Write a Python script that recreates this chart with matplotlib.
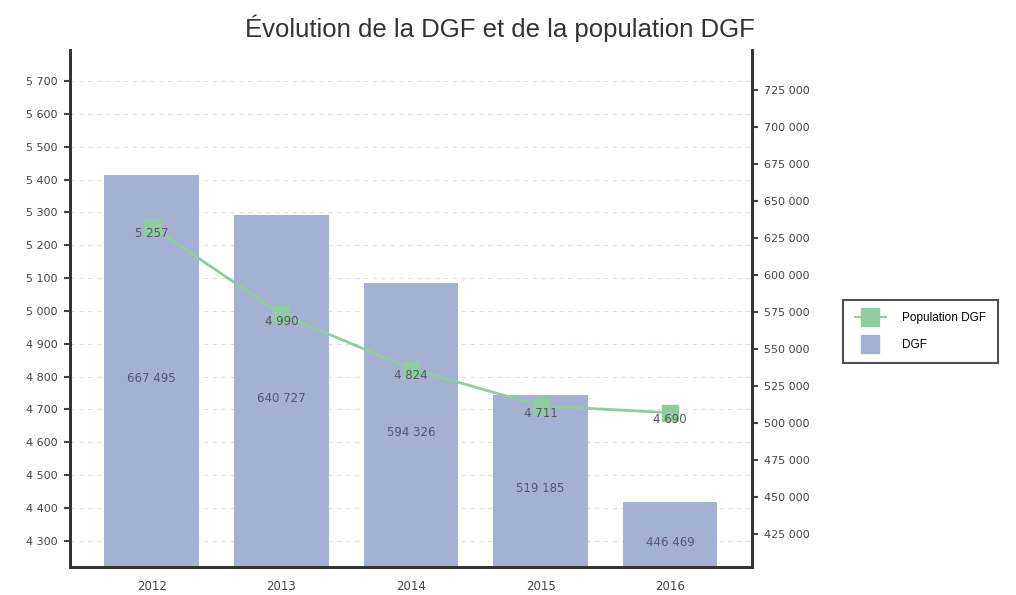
import matplotlib.pyplot as plt
import matplotlib.ticker as mticker
from matplotlib.lines import Line2D

plt.rcParams['font.family'] = ['Liberation Sans', 'DejaVu Sans']

years = ['2012', '2013', '2014', '2015', '2016']
dgf = [667495, 640727, 594326, 519185, 446469]
population = [5257, 4990, 4824, 4711, 4690]

BAR_COLOR = '#a4b1d3'
LINE_COLOR = '#8fcc9f'
SMALL_FONT = 'DejaVu Sans'


def fmt_space(v, pos=None):
    return f'{int(round(v)):,}'.replace(',', ' ')


fig = plt.figure(figsize=(10.16, 5.95), dpi=100)
ax = fig.add_axes([0.069, 0.047, 0.671, 0.869])
ax2 = ax.twinx()

x = list(range(len(years)))

# bars on the right axis
ax2.bar(x, dgf, width=0.73, color=BAR_COLOR, zorder=2)
ax2.set_ylim(402700, 752000)
ax2.set_yticks(list(range(425000, 750000, 25000)))
ax2.yaxis.set_major_formatter(mticker.FuncFormatter(fmt_space))
for xi, v in zip(x, dgf):
    ax2.text(xi, (402700 + v) / 2 - 5000, fmt_space(v), ha='center', va='center',
             fontsize=8.5, family=SMALL_FONT, color='#55557a', zorder=4)

# line on the left axis (drawn above bars)
ax.set_zorder(ax2.get_zorder() + 1)
ax.patch.set_visible(False)
ax.plot(x, population, color=LINE_COLOR, lw=2, marker='s', markersize=11,
        markerfacecolor=LINE_COLOR, markeredgecolor=LINE_COLOR)
for xi, v in zip(x, population):
    ax.text(xi, v - 22, fmt_space(v), ha='center', va='center', fontsize=8.5,
            family=SMALL_FONT, color='#555566', zorder=5)
ax.set_ylim(4220, 5795)
ax.set_yticks(list(range(4300, 5800, 100)))
ax.yaxis.set_major_formatter(mticker.FuncFormatter(fmt_space))
ax.set_xlim(-0.63, 4.63)
ax.set_xticks(x)
ax.set_xticklabels(years)

# dashed grid lines behind bars
for t in range(4300, 5800, 100):
    ax2.axhline((t - 4220) / (5795 - 4220) * (752000 - 402700) + 402700,
                color='#e0e0e0', lw=0.8, ls=(0, (4, 4)), zorder=1)

for a in (ax, ax2):
    a.spines['top'].set_visible(False)
    for s in ('left', 'right', 'bottom'):
        a.spines[s].set_linewidth(2)
        a.spines[s].set_color('#333333')
    a.tick_params(labelsize=8, colors='#444444', length=4, width=1.5, pad=5)
    for lbl in a.get_xticklabels() + a.get_yticklabels():
        lbl.set_family(SMALL_FONT)
ax.tick_params(axis='x', length=0, pad=9, labelsize=8.5)

handles = [
    Line2D([], [], color=LINE_COLOR, lw=1.5, marker='s', markersize=13,
           markerfacecolor=LINE_COLOR, markeredgecolor=LINE_COLOR),
    Line2D([], [], color='none', marker='s', markersize=13,
           markerfacecolor=BAR_COLOR, markeredgecolor=BAR_COLOR),
]
leg = fig.legend(handles, ['Population DGF', 'DGF'], loc='upper left',
                 bbox_to_anchor=(0.83, 0.496), fontsize=8.5, frameon=True,
                 fancybox=False, edgecolor='#222222', handlelength=2.6,
                 borderpad=1.0, labelspacing=1.3, handletextpad=1.4,
                 borderaxespad=0)
leg.get_frame().set_linewidth(1.5)

fig.suptitle('Évolution de la DGF et de la population DGF', x=0.492, y=0.975,
             fontsize=18.5, color='#333333')

fig.savefig('out.png', dpi=100)
